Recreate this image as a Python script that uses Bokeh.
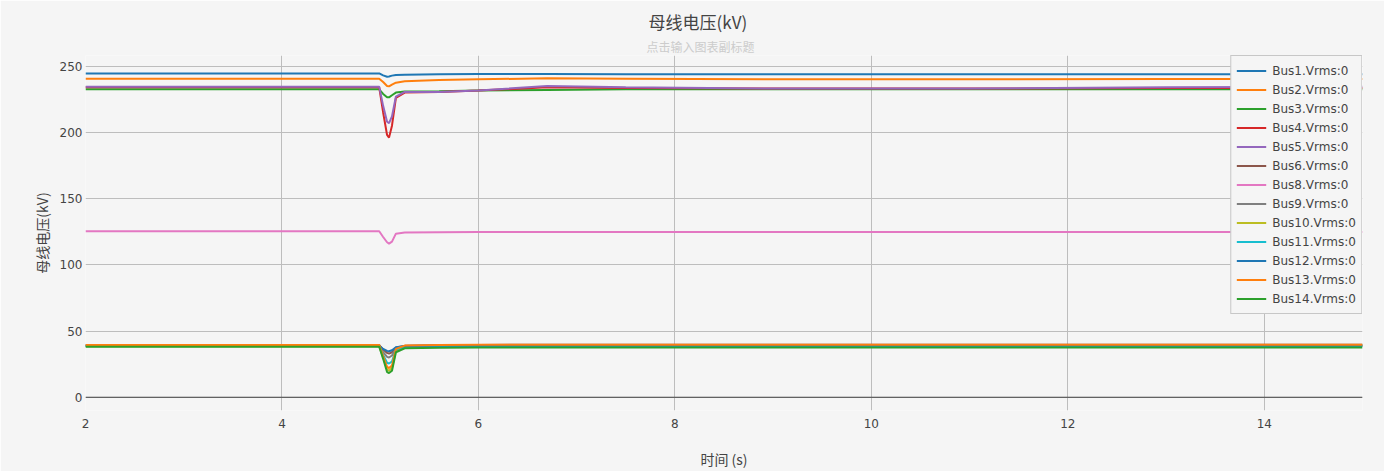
from bokeh.plotting import figure
from bokeh.models import Legend, LegendItem, Span, Title, FixedTicker, Range1d
from bokeh.embed import file_html
from bokeh.resources import INLINE

# ---- data ----
time_s = [2.0, 4.99, 5.03, 5.07, 5.09, 5.12, 5.16, 5.25, 5.6, 6.0, 6.7, 7.5, 9.0, 11.0, 13.0, 15.0]

bus1 = [244.5, 244.5, 243.0, 242.0, 242.2, 242.8, 243.3, 243.5, 243.8, 244.0, 244.0, 243.8, 243.8, 243.8, 243.8, 243.8]
bus2 = [240.5, 240.5, 238.0, 235.0, 234.7, 236.0, 237.5, 238.5, 239.5, 240.0, 240.8, 240.5, 240.0, 240.0, 240.2, 240.2]
bus3 = [232.5, 232.5, 229.0, 226.5, 226.4, 228.0, 230.0, 230.8, 231.0, 231.5, 232.0, 232.5, 232.5, 232.5, 232.5, 232.5]
bus4 = [234.0, 234.0, 215.0, 198.0, 196.0, 205.0, 226.0, 230.0, 230.5, 231.5, 234.0, 233.5, 233.0, 233.0, 233.5, 233.5]
bus5 = [234.5, 234.5, 220.0, 208.0, 207.0, 212.0, 227.0, 230.5, 230.5, 231.5, 235.0, 234.0, 233.0, 233.0, 234.0, 234.5]
bus6 = [39.3, 39.3, 36.0, 33.5, 33.0, 34.0, 37.5, 38.8, 39.3, 39.5, 39.6, 39.7, 39.7, 39.7, 39.7, 39.7]
bus8 = [125.3, 125.3, 121.0, 117.0, 116.0, 117.5, 123.5, 124.3, 124.5, 124.7, 124.8, 124.8, 124.8, 124.8, 124.8, 124.8]
bus9 = [38.8, 38.8, 34.0, 30.5, 30.0, 31.5, 36.5, 38.2, 38.6, 38.8, 39.0, 39.0, 39.0, 39.0, 39.0, 39.0]
bus10 = [38.5, 38.5, 30.0, 21.0, 20.0, 22.0, 35.0, 37.8, 38.3, 38.5, 38.6, 38.6, 38.6, 38.6, 38.6, 38.6]
bus11 = [38.6, 38.6, 32.0, 26.0, 25.5, 27.0, 36.0, 38.0, 38.4, 38.6, 38.7, 38.7, 38.7, 38.7, 38.7, 38.7]
bus12 = [39.0, 39.0, 36.5, 35.0, 34.7, 35.5, 37.8, 38.7, 39.0, 39.0, 39.0, 39.0, 39.0, 39.0, 39.0, 39.0]
bus13 = [39.5, 39.5, 31.0, 23.0, 22.0, 24.0, 36.5, 39.0, 39.4, 39.6, 39.7, 39.7, 39.7, 39.7, 39.7, 39.7]
bus14 = [38.2, 38.2, 29.0, 19.0, 18.3, 20.0, 34.0, 37.0, 37.4, 37.6, 37.6, 37.6, 37.6, 37.6, 37.6, 37.6]

series_names = ["Bus1.Vrms:0", "Bus2.Vrms:0", "Bus3.Vrms:0", "Bus4.Vrms:0", "Bus5.Vrms:0",
                "Bus6.Vrms:0", "Bus8.Vrms:0", "Bus9.Vrms:0", "Bus10.Vrms:0", "Bus11.Vrms:0",
                "Bus12.Vrms:0", "Bus13.Vrms:0", "Bus14.Vrms:0"]
series_values = [bus1, bus2, bus3, bus4, bus5, bus6, bus8, bus9, bus10, bus11, bus12, bus13, bus14]

x_ticks = [2, 4, 6, 8, 10, 12, 14]
y_ticks = [0, 50, 100, 150, 200, 250]

title_text = "母线电压(kV)"
subtitle_text = "点击输入图表副标题"
x_label = "时间 (s)"
y_label = "母线电压(kV)"

# ---- styles ----
colors = ["#1f77b4", "#ff7f0e", "#2ca02c", "#d62728", "#9467bd", "#8c564b", "#e377c2",
          "#7f7f7f", "#bcbd22", "#17becf", "#1f77b4", "#ff7f0e", "#2ca02c"]
BG = "#f5f5f5"
CJK = "Noto Sans CJK SC"
LAT = "DejaVu Sans"

p = figure(width=1384, height=471, output_backend="svg", toolbar_location=None,
           x_range=Range1d(2, 15), y_range=Range1d(-10, 258),
           min_border_left=85, min_border_right=22, min_border_top=55, min_border_bottom=61,
           background_fill_color=BG, border_fill_color=BG, outline_line_color=None)

# titles (subtitle first: closest to plot)
p.add_layout(Title(text=subtitle_text, align="left", offset=561, text_font=CJK,
                   text_font_size="12px", text_color="#cccccc", text_font_style="normal",
                   standoff=2), "above")
p.add_layout(Title(text=title_text, align="left", offset=563, text_font=CJK,
                   text_font_size="17px", text_color="#444444", text_font_style="normal",
                   standoff=2), "above")

# axes
for ax in (p.xaxis[0], p.yaxis[0]):
    ax.axis_line_color = None
    ax.major_tick_line_color = None
    ax.minor_tick_line_color = None
    ax.major_tick_out = 0
    ax.major_tick_in = 0
    ax.minor_tick_out = 0
    ax.minor_tick_in = 0
    ax.major_label_text_font = LAT
    ax.major_label_text_font_size = "12px"
    ax.major_label_text_color = "#444444"
    ax.axis_label_text_font = CJK
    ax.axis_label_text_font_size = "14px"
    ax.axis_label_text_font_style = "normal"
    ax.axis_label_text_color = "#444444"

p.xaxis[0].ticker = FixedTicker(ticks=x_ticks)
p.yaxis[0].ticker = FixedTicker(ticks=y_ticks)
p.xaxis[0].axis_label = x_label
p.yaxis[0].axis_label = y_label
p.xaxis[0].major_label_standoff = 8
p.yaxis[0].major_label_standoff = 3
p.xaxis[0].axis_label_standoff = 18
p.yaxis[0].axis_label_standoff = 5

p.xgrid.grid_line_color = "#bdbdbd"
p.ygrid.grid_line_color = "#bdbdbd"
p.add_layout(Span(location=0, dimension="width", line_color="#444444", line_width=1))

items = []
for name, vals, col in zip(series_names, series_values, colors):
    r = p.line(time_s, vals, line_color=col, line_width=2)
    items.append(LegendItem(label=name, renderers=[r]))

legend = Legend(items=items, location="top_right", margin=0, padding=5,
                spacing=0, glyph_height=19, label_height=19, glyph_width=30,
                label_standoff=6, label_text_font=LAT, label_text_font_size="12px",
                label_text_color="#444444", border_line_color="#999999",
                border_line_width=1, background_fill_color=BG, background_fill_alpha=1.0)
p.add_layout(legend, "center")

open("out.html", "w").write(file_html(p, INLINE))
